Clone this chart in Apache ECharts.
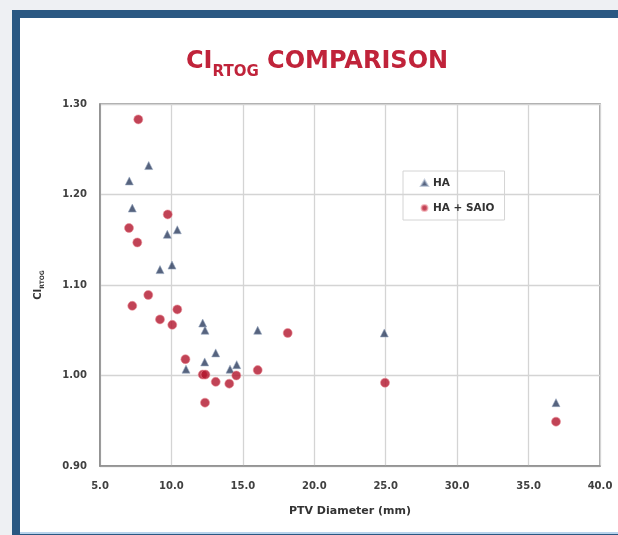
<!DOCTYPE html>
<html><head><meta charset="utf-8">
<script src="https://cdn.jsdelivr.net/npm/echarts@6/dist/echarts.min.js"></script>
<style>html,body{margin:0;padding:0;background:#eef0f3}#c{width:618px;height:535px}</style>
</head><body><div id="c"></div>
<script>
// PTV diameter (mm) and CI_RTOG values
const haX = [7.05, 8.41, 7.26, 9.71, 10.41, 9.2, 10.04, 12.19, 12.35, 16.04, 13.1, 12.33, 11.02, 14.1, 14.57, 24.9, 36.92];
const haY = [1.215, 1.232, 1.185, 1.156, 1.161, 1.117, 1.122, 1.058, 1.050, 1.050, 1.025, 1.015, 1.007, 1.007, 1.012, 1.047, 0.970];
const saioX = [7.68, 9.74, 7.03, 7.61, 8.38, 7.26, 10.41, 9.2, 10.06, 10.98, 12.19, 12.38, 13.1, 14.05, 14.54, 16.04, 18.14, 12.35, 24.95, 36.92];
const saioY = [1.283, 1.178, 1.163, 1.147, 1.089, 1.077, 1.073, 1.062, 1.056, 1.018, 1.001, 1.001, 0.993, 0.991, 1.000, 1.006, 1.047, 0.970, 0.992, 0.949];
const seriesNames = ['HA', 'HA + SAIO'];
const xTicks = [5, 10, 15, 20, 25, 30, 35, 40];
const yTicks = [0.9, 1.0, 1.1, 1.2, 1.3];

const zip = (xs, ys) => xs.map((x, i) => [x, ys[i]]);
const chart = echarts.init(document.getElementById('c'), null, {renderer: 'canvas'});
const FONT = 'DejaVu Sans';
chart.setOption({
  backgroundColor: '#eef0f3',
  animation: false,
  graphic: [
    {type: 'rect', shape: {x: 12, y: 10, width: 620, height: 530}, style: {fill: '#2a5882'}, z: -10},
    {type: 'rect', shape: {x: 20, y: 18, width: 600, height: 514}, style: {fill: '#ffffff'}, z: -9},
    {type: 'rect', shape: {x: 20, y: 532, width: 600, height: 2}, style: {fill: '#b9d3ec'}, z: -9}
  ],
  title: {
    text: '{a|CI}{b|RTOG}{a| COMPARISON}',
    left: 181, top: 39,
    textStyle: {
      rich: {
        a: {fontFamily: FONT, fontWeight: 'bold', fontSize: 24, color: '#c0233a', lineHeight: 36},
        b: {fontFamily: FONT, fontWeight: 'bold', fontSize: 15, color: '#c0233a', lineHeight: 15, verticalAlign: 'bottom'}
      }
    }
  },
  legend: {
    orient: 'vertical', left: 403, top: 171,
    padding: [5, 10, 5, 17], itemGap: 11, itemWidth: 7, itemHeight: 6, itemGap: 11, itemTextGap: 7,
    borderColor: '#d4d4d4', borderWidth: 1,
    textStyle: {fontFamily: FONT, fontWeight: 'bold', fontSize: 10.5, color: '#333', lineHeight: 14},
    data: [{name: seriesNames[0], icon: 'triangle'}, {name: seriesNames[1], icon: 'circle'}]
  },
  grid: {left: 100, right: 18, top: 104, bottom: 69, show: true, borderColor: '#8a8a8a', borderWidth: 1.5},
  xAxis: {
    type: 'value', min: xTicks[0], max: xTicks[xTicks.length - 1], interval: 5,
    name: 'PTV Diameter (mm)', nameLocation: 'middle', nameGap: 40,
    nameTextStyle: {fontFamily: FONT, fontWeight: 'bold', fontSize: 11, color: '#333'},
    axisLine: {show: true, lineStyle: {color: '#8a8a8a', width: 1.5}},
    axisTick: {show: false},
    axisLabel: {fontFamily: FONT, fontWeight: 'bold', fontSize: 10, color: '#404040', margin: 15, formatter: v => v.toFixed(1)},
    splitLine: {show: true, lineStyle: {color: '#d4d4d4', width: 1.3}}
  },
  yAxis: {
    type: 'value', min: yTicks[0], max: yTicks[yTicks.length - 1], interval: 0.1,
    name: '{a|CI}{b|RTOG}', nameLocation: 'middle', nameGap: 55, nameRotate: 90,
    nameTextStyle: {
      rich: {
        a: {fontFamily: FONT, fontWeight: 'bold', fontSize: 10, color: '#333', lineHeight: 14},
        b: {fontFamily: FONT, fontWeight: 'bold', fontSize: 6, color: '#333', lineHeight: 8, verticalAlign: 'bottom'}
      }
    },
    axisLine: {show: true, lineStyle: {color: '#8a8a8a', width: 1.5}},
    axisTick: {show: false},
    axisLabel: {fontFamily: FONT, fontWeight: 'bold', fontSize: 10, color: '#404040', margin: 13, formatter: v => v.toFixed(2)},
    splitLine: {show: true, lineStyle: {color: '#d4d4d4', width: 1.3}}
  },
  series: [
    {name: seriesNames[0], type: 'scatter', symbol: 'triangle', symbolSize: 8,
     itemStyle: {color: '#2c3c5e', borderColor: 'rgba(150,165,190,0.7)', borderWidth: 1},
     data: zip(haX, haY)},
    {name: seriesNames[1], type: 'scatter', symbol: 'circle', symbolSize: 9,
     itemStyle: {color: '#b1142c', borderColor: 'rgba(235,140,150,0.7)', borderWidth: 1},
     data: zip(saioX, saioY)}
  ]
});
</script></body></html>
